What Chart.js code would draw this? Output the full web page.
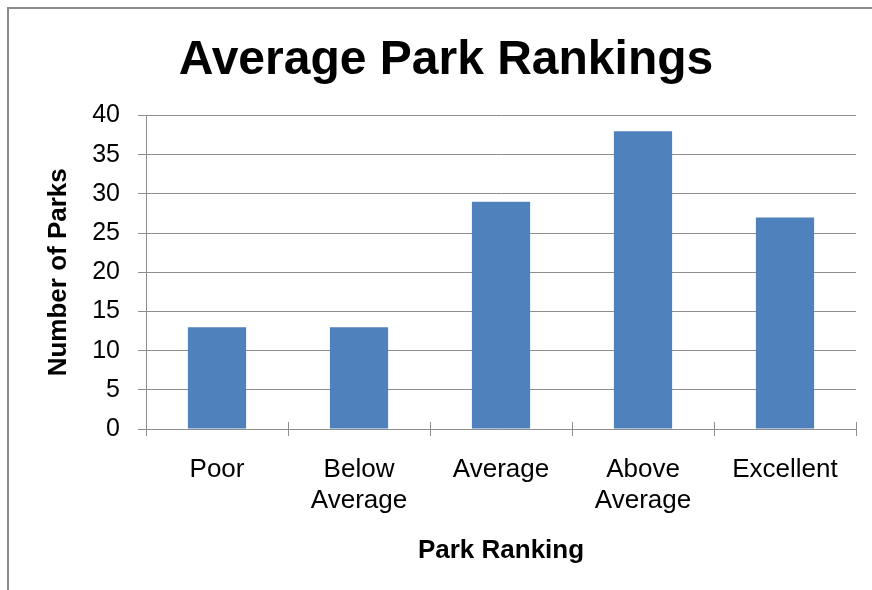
<!DOCTYPE html>
<html>
<head>
<meta charset="utf-8">
<script src="https://cdn.jsdelivr.net/npm/chart.js@4.4.0/dist/chart.umd.min.js"></script>
<style>
  html, body { margin: 0; padding: 0; background: #fff; overflow: hidden; }
  #wrap { position: absolute; left: 0; top: 0; width: 872px; height: 590px; }
  #frame {
    position: absolute; left: 7px; top: 7px; width: 900px; height: 620px;
    border-left: 2px solid #8a8a8a; border-top: 2px solid #8a8a8a;
    pointer-events: none;
  }
</style>
</head>
<body>
<div id="wrap"><canvas id="chartParques"></canvas></div>
<div id="frame"></div>
<script>
// ---- datos ----
const categorias = [["Poor"], ["Below", "Average"], ["Average"], ["Above", "Average"], ["Excellent"]];
const numeroParques = [13, 13, 29, 38, 27];
const ticksY = { min: 0, max: 40, step: 5 };

const FUENTE = "'Liberation Sans', Arial, sans-serif";
const GRIS = "#8e8e8e";

// las marcas del eje X cruzan la línea del eje (como en Excel)
const marcasCruzadas = {
  id: "marcasCruzadas",
  afterDraw(chart) {
    const x = chart.scales.x;
    const c = chart.ctx;
    const base = chart.chartArea.bottom;
    c.save();
    c.strokeStyle = GRIS;
    c.lineWidth = 1;
    for (let i = 0; i <= x.ticks.length; i++) {
      const px = Math.round(x.getPixelForValue(i - 0.5)) + 0.5;
      c.beginPath();
      c.moveTo(px, base - 7);
      c.lineTo(px, base);
      c.stroke();
    }
    c.restore();
  },
};

const ctx = document.getElementById("chartParques");

new Chart(ctx, {
  type: "bar",
  data: {
    labels: categorias,
    datasets: [
      {
        label: "Number of Parks",
        data: numeroParques,
        backgroundColor: "#4f81bd",
        borderWidth: 0,
        categoryPercentage: 1,
        barPercentage: 0.41,
      },
    ],
  },
  options: {
    responsive: true,
    maintainAspectRatio: false,
    animation: false,
    layout: { padding: { left: 36, right: 16, top: 0, bottom: 0 } },
    plugins: {
      legend: { display: false },
      tooltip: { enabled: false },
      title: {
        display: true,
        text: "Average Park Rankings",
        color: "#000",
        font: { family: FUENTE, size: 48, weight: "bold" },
        padding: { top: 32, bottom: 26 },
      },
    },
    scales: {
      x: {
        grid: { offset: true, drawOnChartArea: false, tickLength: 7, color: GRIS },
        border: { color: GRIS },
        ticks: { color: "#000", padding: 18, font: { family: FUENTE, size: 26 } },
        title: {
          display: true,
          text: "Park Ranking",
          color: "#000",
          font: { family: FUENTE, size: 26, weight: "bold" },
          padding: { top: 0, bottom: 24 },
        },
        afterFit: (scale) => { scale.height = 161; },
      },
      y: {
        min: ticksY.min,
        max: ticksY.max,
        ticks: { stepSize: ticksY.step, color: "#000", padding: 18, font: { family: FUENTE, size: 25 } },
        grid: { color: GRIS, tickLength: 8 },
        border: { color: GRIS },
        title: {
          display: true,
          text: "Number of Parks",
          color: "#000",
          font: { family: FUENTE, size: 26, weight: "bold" },
          padding: { top: 7, bottom: 0 },
        },
        afterFit: (scale) => { scale.width = 110; },
      },
    },
  },
  plugins: [marcasCruzadas],
});
</script>
</body>
</html>
